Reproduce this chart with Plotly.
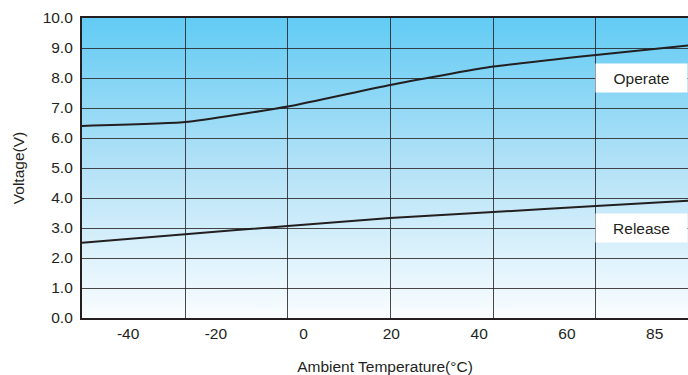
import base64
import plotly.graph_objects as go

# ---- data ----
temperature = [-50.5, -27.0, -3.6, 19.7, 43.2, 66.6, 87.6]
operate_v = [6.40, 6.53, 7.05, 7.77, 8.38, 8.77, 9.08]
release_v = [2.51, 2.79, 3.07, 3.33, 3.53, 3.73, 3.91]

x_tick_vals = [-40, -20, 0, 20, 40, 60, 80]
x_tick_text = ["-40", "-20", "0", "20", "40", "60", "85"]
x_grid_vals = [-27.0, -3.6, 19.7, 43.2, 66.6]
y_tick_vals = [0, 1, 2, 3, 4, 5, 6, 7, 8, 9, 10]
y_tick_text = ["0.0", "1.0", "2.0", "3.0", "4.0", "5.0", "6.0", "7.0", "8.0", "9.0", "10.0"]

x_range = [-50.5, 87.6]
y_range = [0, 10]

FONT = "Liberation Sans, Arial, Helvetica, sans-serif"
INK = "#231f20"
GRID = "rgba(35,31,32,0.82)"

# gradient background as an SVG image
svg = (
    "<svg xmlns='http://www.w3.org/2000/svg' width='100' height='100' preserveAspectRatio='none'>"
    "<defs><linearGradient id='g' x1='0' y1='0' x2='0' y2='1'>"
    "<stop offset='0' stop-color='#62CBF4'/>"
    "<stop offset='0.5' stop-color='#B4E2F7'/>"
    "<stop offset='1' stop-color='#FAFDFF'/>"
    "</linearGradient></defs>"
    "<rect width='100' height='100' fill='url(#g)'/></svg>"
)
svg_uri = "data:image/svg+xml;base64," + base64.b64encode(svg.encode()).decode()

fig = go.Figure()
fig.add_trace(go.Scatter(x=temperature, y=operate_v, mode="lines",
                         line=dict(color=INK, width=2, shape="spline", smoothing=0.5),
                         hoverinfo="skip", showlegend=False))
fig.add_trace(go.Scatter(x=temperature, y=release_v, mode="lines",
                         line=dict(color=INK, width=2, shape="spline", smoothing=0.5),
                         hoverinfo="skip", showlegend=False))

fig.update_layout(
    width=688, height=375,
    margin=dict(l=82, r=0, t=18, b=57),
    paper_bgcolor="white",
    plot_bgcolor="rgba(0,0,0,0)",
    font=dict(family=FONT, size=15.5, color=INK),
    showlegend=False,
    images=[dict(source=svg_uri, xref="paper", yref="paper", x=0, y=1,
                 sizex=1, sizey=1, xanchor="left", yanchor="top",
                 sizing="stretch", layer="below")],
    xaxis=dict(
        range=x_range, tickmode="array", tickvals=x_tick_vals, ticktext=x_tick_text,
        showgrid=False, zeroline=False,
        ticks="",
        showline=True, linecolor=INK, linewidth=2.4, mirror=True,
        minor=dict(tickmode="array", tickvals=x_grid_vals, showgrid=True,
                   gridcolor=GRID, gridwidth=1.2, ticks=""),
        title=dict(text="Ambient Temperature(°C)", standoff=20,
                   font=dict(size=15.5, color=INK)),
        fixedrange=True,
    ),
    yaxis=dict(
        range=y_range, tickmode="array", tickvals=y_tick_vals, ticktext=y_tick_text,
        showgrid=True, gridcolor=GRID, gridwidth=1.2, zeroline=False,
        ticks="outside", ticklen=4, tickcolor="rgba(0,0,0,0)",
        showline=True, linecolor=INK, linewidth=2.2,
        title=dict(text="Voltage(V)", standoff=14, font=dict(size=15.5, color=INK)),
        fixedrange=True,
    ),
    annotations=[
        dict(text="Operate", xref="paper", x=1, xanchor="right", yref="y", y=8.0,
             yanchor="middle", width=91, height=28, bgcolor="white", borderpad=0,
             showarrow=False, align="center", font=dict(size=15.5, color=INK)),
        dict(text="Release", xref="paper", x=1, xanchor="right", yref="y", y=3.0,
             yanchor="middle", width=91, height=28, bgcolor="white", borderpad=0,
             showarrow=False, align="center", font=dict(size=15.5, color=INK)),
    ],
)

fig.write_html("out.html", config={"displayModeBar": False},
               post_script="document.body.style.margin='0';")
